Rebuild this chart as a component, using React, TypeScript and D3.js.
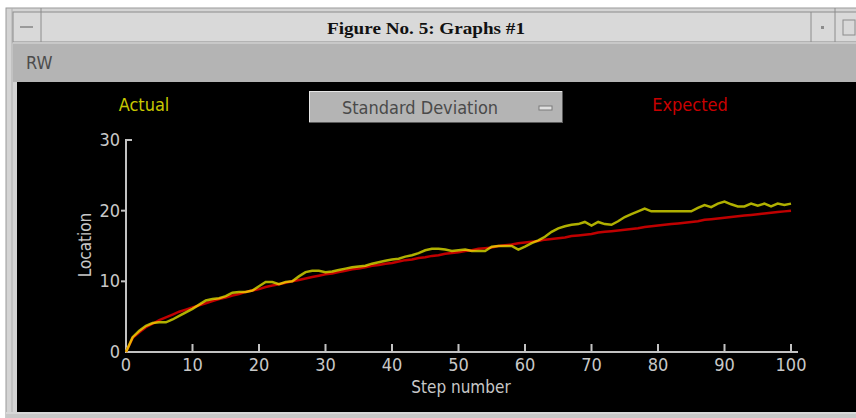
import React from "react";
import * as d3 from "d3";

const steps: number[] = d3.range(0, 101);

const actual: number[] = [
  0, 2.1, 3.0, 3.7, 4.1, 4.2, 4.2, 4.6, 5.1, 5.6,
  6.1, 6.7, 7.3, 7.5, 7.6, 7.9, 8.4, 8.5, 8.5, 8.7,
  9.3, 9.9, 9.9, 9.6, 9.9, 10.0, 10.7, 11.3, 11.5, 11.5,
  11.3, 11.4, 11.6, 11.8, 12.0, 12.1, 12.2, 12.5, 12.7, 12.9,
  13.1, 13.2, 13.5, 13.7, 14.0, 14.4, 14.6, 14.6, 14.5, 14.3,
  14.4, 14.5, 14.3, 14.3, 14.3, 14.9, 15.0, 15.0, 15.0, 14.5,
  14.9, 15.4, 15.8, 16.3, 17.0, 17.5, 17.8, 18.0, 18.1, 18.4,
  17.9, 18.4, 18.1, 18.0, 18.5, 19.1, 19.5, 19.9, 20.3, 19.9,
  19.9, 19.9, 19.9, 19.9, 19.9, 19.9, 20.4, 20.8, 20.5, 21.0,
  21.3, 20.9, 20.6, 20.6, 21.0, 20.7, 21.0, 20.6, 21.0, 20.8,
  21.0,
];

const expected: number[] = [
  0, 2.0, 2.8, 3.5, 4.0, 4.5, 4.9, 5.3, 5.7, 6.0,
  6.3, 6.6, 6.9, 7.2, 7.5, 7.7, 8.0, 8.2, 8.5, 8.7,
  8.9, 9.2, 9.4, 9.6, 9.8, 10.0, 10.2, 10.4, 10.6, 10.8,
  11.0, 11.1, 11.3, 11.5, 11.7, 11.8, 12.0, 12.2, 12.3, 12.5,
  12.6, 12.8, 13.0, 13.1, 13.3, 13.4, 13.6, 13.7, 13.9, 14.0,
  14.1, 14.3, 14.4, 14.6, 14.7, 14.8, 15.0, 15.1, 15.2, 15.4,
  15.5, 15.6, 15.7, 15.9, 16.0, 16.1, 16.2, 16.4, 16.5, 16.6,
  16.7, 16.9, 17.0, 17.1, 17.2, 17.3, 17.4, 17.5, 17.7, 17.8,
  17.9, 18.0, 18.1, 18.2, 18.3, 18.4, 18.5, 18.7, 18.8, 18.9,
  19.0, 19.1, 19.2, 19.3, 19.4, 19.5, 19.6, 19.7, 19.8, 19.9,
  20.0,
];

const xTicks: number[] = [0, 10, 20, 30, 40, 50, 60, 70, 80, 90, 100];
const yTicks: number[] = [0, 10, 20, 30];

const FONT = "'Liberation Sans Narrow', 'DejaVu Sans Condensed', 'Liberation Sans', sans-serif";

export default function App() {
  const x = d3.scaleLinear().domain([0, 100]).range([126, 791]);
  const y = d3.scaleLinear().domain([0, 30]).range([352, 140]);

  const line = d3
    .line<number>()
    .x((_, i) => x(steps[i]))
    .y((d) => y(d));

  const axisColor = "#c2c2c2";

  return (
    <svg
      width={856}
      height={418}
      style={{ position: "absolute", left: 0, top: 0, background: "#ffffff" }}
    >
      {/* window frame */}
      <rect x={6} y={8} width={870} height={420} fill="#d4d4d4" stroke="#9a9a9a" />
      <line x1={12} y1={8} x2={12} y2={418} stroke="#b0b0b0" />
      {/* title bar */}
      <rect x={13} y={12} width={850} height={30} fill="#d9d9d9" stroke="#8c8c8c" />
      <line x1={41} y1={8} x2={41} y2={42} stroke="#8c8c8c" />
      <line x1={20} y1={27} x2={33} y2={27} stroke="#9a9a9a" strokeWidth={2} />
      <line x1={811} y1={12} x2={811} y2={42} stroke="#8c8c8c" />
      <line x1={835} y1={8} x2={835} y2={42} stroke="#8c8c8c" />
      <rect x={821} y={26} width={3} height={3} fill="#8c8c8c" />
      <rect x={843} y={20} width={12} height={15} fill="none" stroke="#8c8c8c" />
      <text
        x={426}
        y={34}
        textAnchor="middle"
        fontFamily="'Liberation Serif', serif"
        fontWeight="bold"
        fontSize={16}
        fill="#111"
        textLength={198}
        lengthAdjust="spacingAndGlyphs"
      >
        Figure No. 5: Graphs #1
      </text>
      {/* menu bar */}
      <rect x={13} y={42} width={850} height={40} fill="#b4b4b4" />
      <line x1={13} y1={43} x2={856} y2={43} stroke="#dcdcdc" />
      <text x={26} y={69} fontFamily={FONT} fontSize={18} fill="#4c4c4c">
        RW
      </text>
      {/* plot area */}
      <rect x={17} y={82} width={845} height={330} fill="#000000" />
      <rect x={6} y={412} width={860} height={6} fill="#c8c8c8" />
      <line x1={6} y1={413} x2={856} y2={413} stroke="#e8e8e8" />

      {/* legend */}
      <text x={144} y={111} textAnchor="middle" fontFamily={FONT} fontSize={18} fill="#c8c800">
        Actual
      </text>
      <text x={690} y={111} textAnchor="middle" fontFamily={FONT} fontSize={18} fill="#c80000">
        Expected
      </text>
      {/* dropdown */}
      <rect x={309} y={91} width={254} height={32} fill="#b4b4b4" />
      <line x1={309} y1={91.5} x2={563} y2={91.5} stroke="#e6e6e6" />
      <line x1={309.5} y1={91} x2={309.5} y2={123} stroke="#e6e6e6" />
      <line x1={309} y1={122.5} x2={563} y2={122.5} stroke="#5a5a5a" />
      <line x1={562.5} y1={91} x2={562.5} y2={123} stroke="#5a5a5a" />
      <text x={420} y={114} textAnchor="middle" fontFamily={FONT} fontSize={18} fill="#4a4a4a">
        Standard Deviation
      </text>
      <rect x={539} y={106} width={13} height={4} fill="#e0e0e0" stroke="#7a7a7a" strokeWidth={1} />

      {/* axes */}
      <line x1={126} y1={352} x2={798} y2={352} stroke={axisColor} strokeWidth={2} />
      <line x1={126} y1={353} x2={126} y2={y(30)} stroke={axisColor} strokeWidth={2} />
      <line x1={125} y1={y(30)} x2={132} y2={y(30)} stroke={axisColor} strokeWidth={2} />
      {xTicks.map((t) => (
        <g key={"x" + t}>
          <line x1={x(t)} y1={352} x2={x(t)} y2={344} stroke={axisColor} strokeWidth={2} />
          <text
            x={x(t)}
            y={371}
            textAnchor="middle"
            fontFamily={FONT}
            fontSize={18}
            fill="#c8c8c8"
          >
            {t}
          </text>
        </g>
      ))}
      {yTicks.map((t) => (
        <g key={"y" + t}>
          {t > 0 && t < 30 && (
            <line x1={121} y1={y(t)} x2={126} y2={y(t)} stroke={axisColor} strokeWidth={2} />
          )}
          <text
            x={120}
            y={y(t) + 6}
            textAnchor="end"
            fontFamily={FONT}
            fontSize={18}
            fill="#c8c8c8"
          >
            {t}
          </text>
        </g>
      ))}
      <text
        x={461}
        y={393}
        textAnchor="middle"
        fontFamily={FONT}
        fontSize={17}
        fill="#c8c8c8"
      >
        Step number
      </text>
      <text
        transform="translate(91,245) rotate(-90)"
        textAnchor="middle"
        fontFamily={FONT}
        fontSize={17}
        fill="#c8c8c8"
      >
        Location
      </text>

      {/* series */}
      <g style={{ isolation: "isolate" }}>
        <path d={line(expected) || ""} fill="none" stroke="#c00000" strokeWidth={2.5} />
        <path
          d={line(actual) || ""}
          fill="none"
          stroke="#b0b000"
          strokeWidth={2.5}
          style={{ mixBlendMode: "screen" }}
        />
      </g>
    </svg>
  );
}
